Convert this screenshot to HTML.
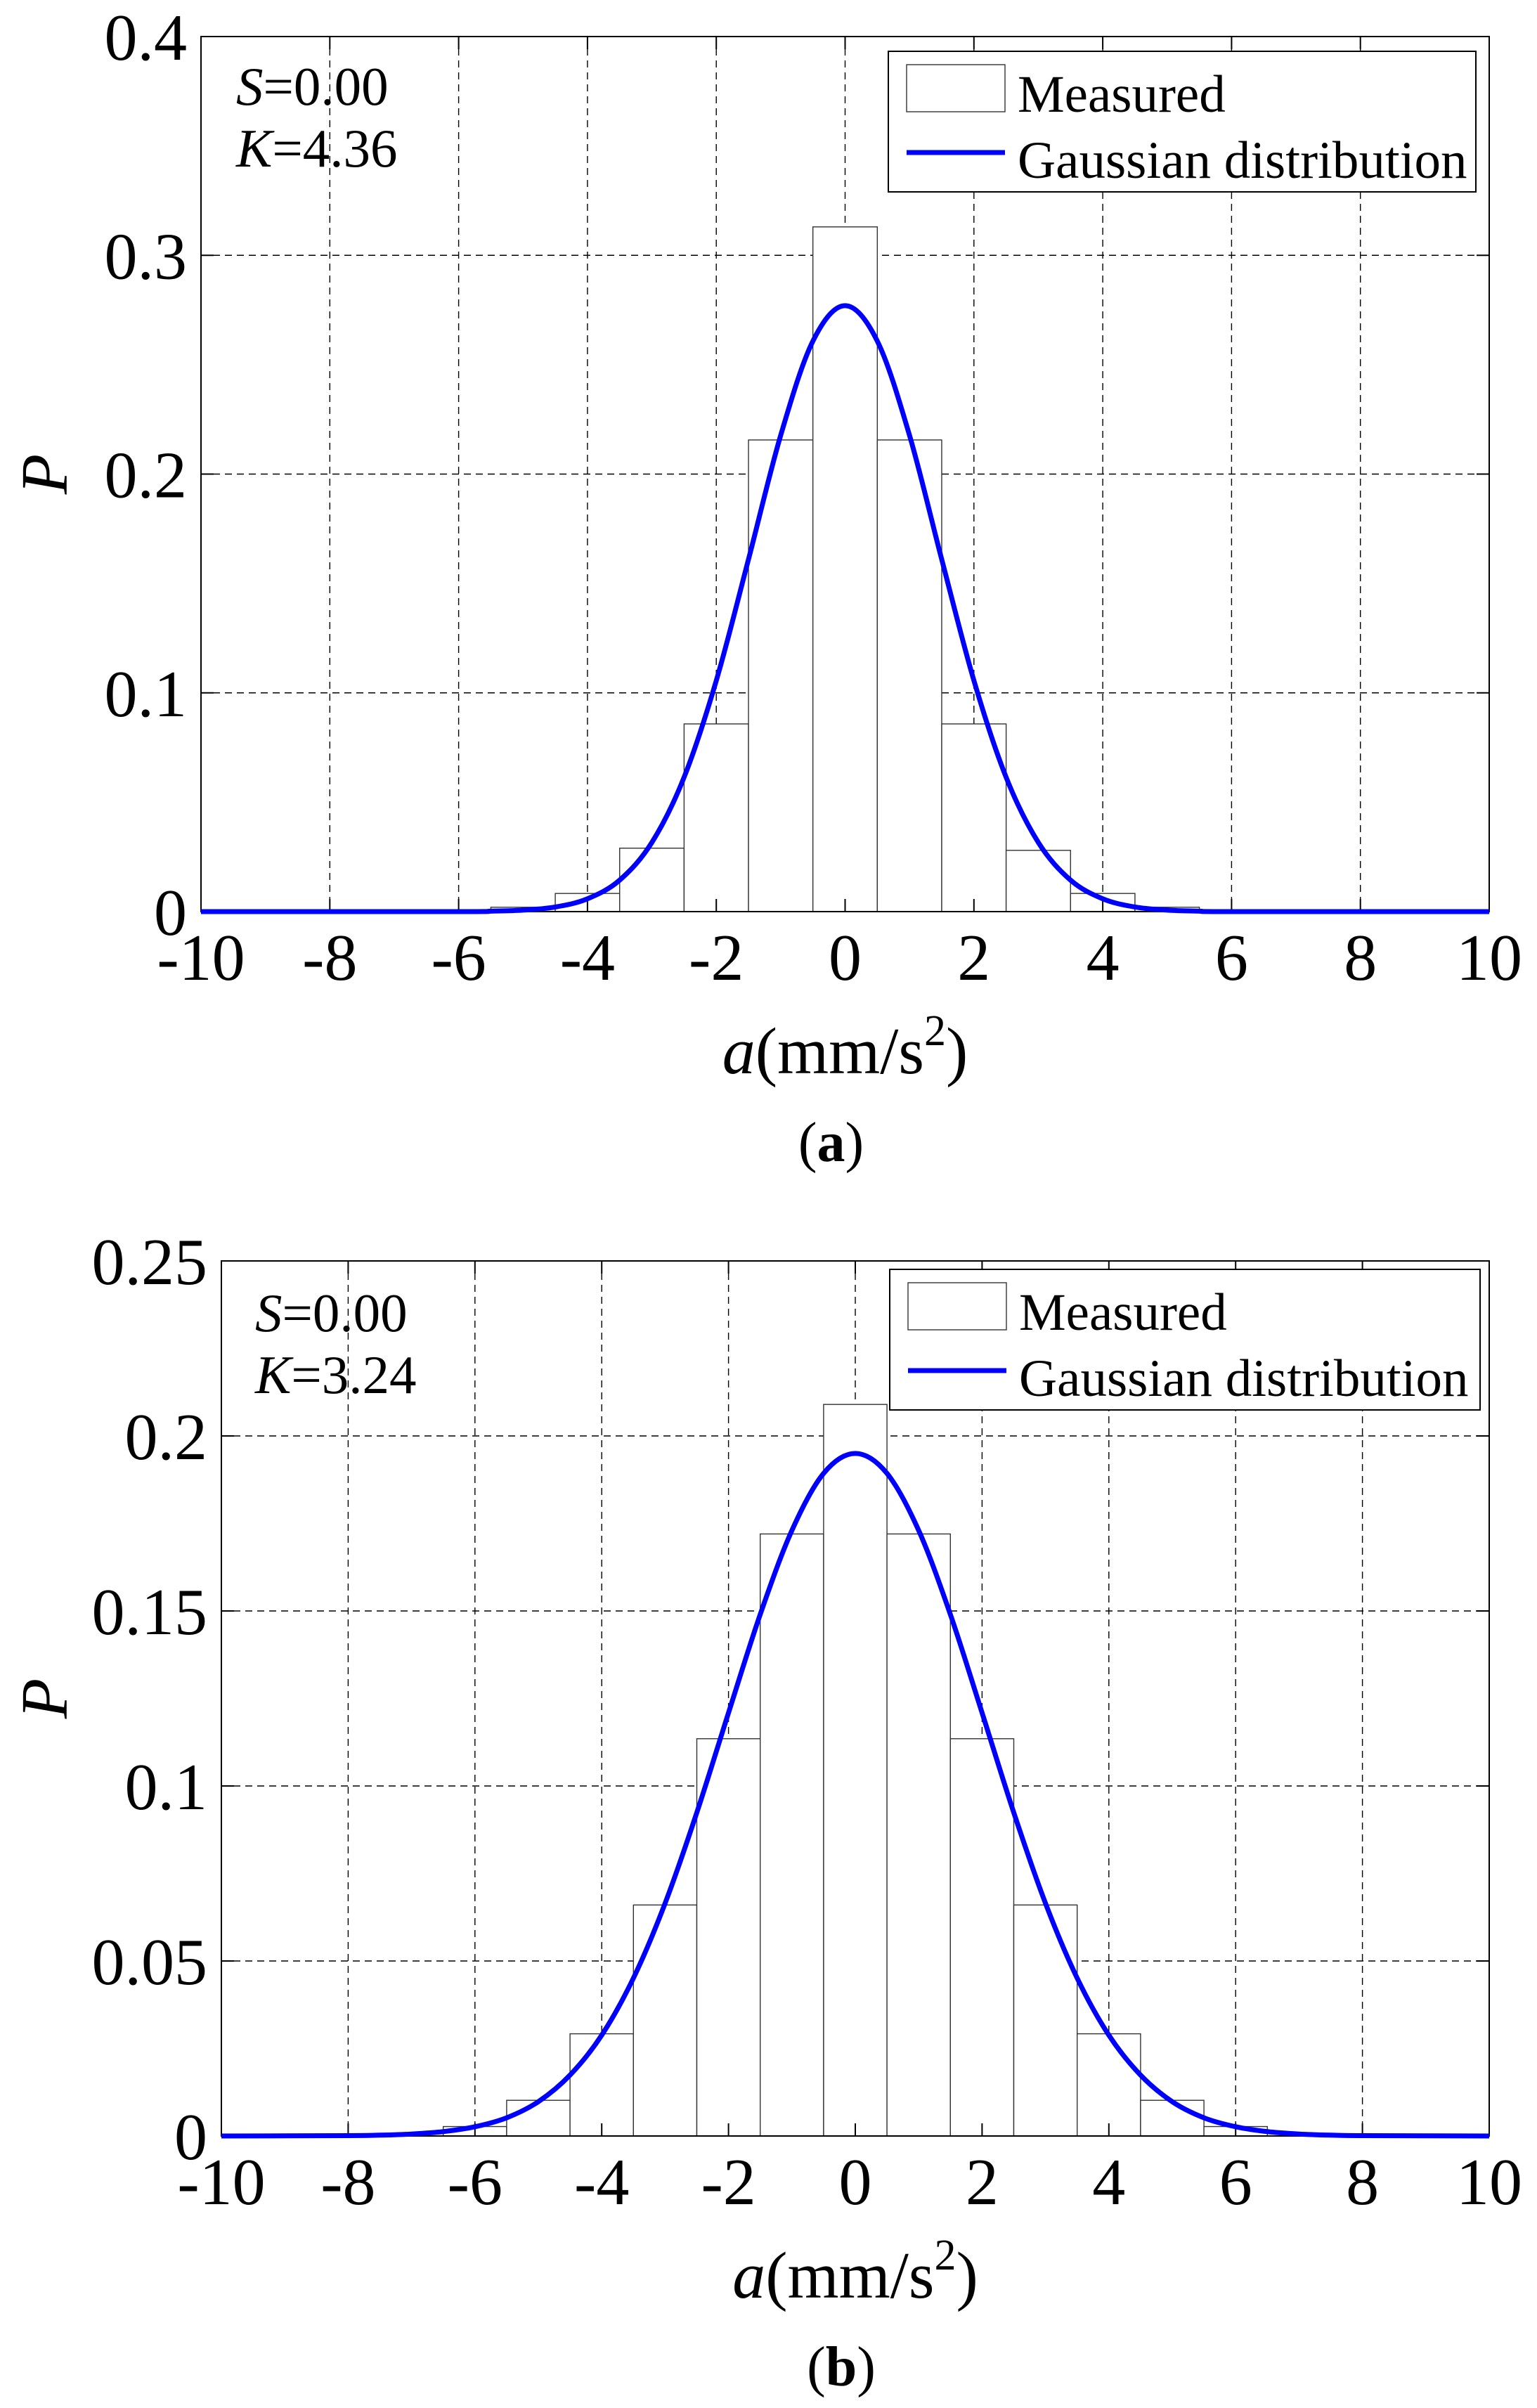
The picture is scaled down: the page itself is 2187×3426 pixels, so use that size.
<!DOCTYPE html>
<html><head><meta charset="utf-8"><style>
html,body{margin:0;padding:0;background:#fff}
svg{display:block}
text{font-family:"Liberation Serif",serif;fill:#000}
</style></head><body>
<svg id="fig" width="2187" height="3426" viewBox="0 0 2187 3426" xmlns="http://www.w3.org/2000/svg"></svg>
<script>
// ---- Chart (a) data ----
const aBinCenters = [-5,-4,-3,-2,-1,0,1,2,3,4,5];
const aBinValues  = [0.002,0.0083,0.029,0.0858,0.2156,0.313,0.2156,0.0858,0.028,0.0083,0.002];
const aCurveX = [-10,-6,-5.5,-5,-4.5,-4,-3.5,-3,-2.5,-2,-1.5,-1,-0.5,0,0.5,1,1.5,2,2.5,3,3.5,4,4.5,5,5.5,6,10];
const aCurveY = [0,0,0.0002,0.00067,0.0021,0.00585,0.0144,0.0316,0.0614,0.1056,0.161,0.2177,0.2608,0.277,0.2608,0.2177,0.161,0.1056,0.0614,0.0316,0.0144,0.00585,0.0021,0.00067,0.0002,0,0];
const aYTicks = [0,0.1,0.2,0.3,0.4];
const aYTickLabels = ["0","0.1","0.2","0.3","0.4"];
const aStats = ["0.00","4.36"];
// ---- Chart (b) data ----
const bBinCenters = [-6,-5,-4,-3,-2,-1,0,1,2,3,4,5,6];
const bBinValues  = [0.0027,0.0102,0.0292,0.066,0.1135,0.172,0.209,0.172,0.1135,0.066,0.0292,0.0102,0.0027];
const bCurveX = [-10,-8,-7.5,-7,-6.5,-6,-5.5,-5,-4.5,-4,-3.5,-3,-2.5,-2,-1.5,-1,-0.5,0,0.5,1,1.5,2,2.5,3,3.5,4,4.5,5,5.5,6,6.5,7,7.5,8,10];
const bCurveY = [0,0.0001,0.00024,0.00056,0.00125,0.00264,0.0052,0.0098,0.0174,0.0288,0.0451,0.0665,0.0924,0.1209,0.149,0.173,0.1893,0.195,0.1893,0.173,0.149,0.1209,0.0924,0.0665,0.0451,0.0288,0.0174,0.0098,0.0052,0.00264,0.00125,0.00056,0.00024,0.0001,0];
const bYTicks = [0,0.05,0.1,0.15,0.2,0.25];
const bYTickLabels = ["0","0.05","0.1","0.15","0.2","0.25"];
const bStats = ["0.00","3.24"];
// shared x axis
const xTicks = [-10,-8,-6,-4,-2,0,2,4,6,8,10];
const xTickLabels = ["-10","-8","-6","-4","-2","0","2","4","6","8","10"];

const NS = "http://www.w3.org/2000/svg";
const svg = document.getElementById('fig');
function mk(tag, attrs, parent, txt){
  const e = document.createElementNS(NS, tag);
  for (const k in attrs) e.setAttribute(k, attrs[k]);
  if (txt !== undefined) e.textContent = txt;
  (parent || svg).appendChild(e);
  return e;
}

function drawChart(cfg){
  const g = mk('g', {});
  
  
  const L = cfg.left, R = cfg.right, T = cfg.top, B = cfg.bottom;
  const ymax = cfg.yTicks[cfg.yTicks.length-1];
  const xs = v => L + (v + 10) / 20 * (R - L);
  const ys = v => B - v / ymax * (B - T);

  const grid = mk('g', {stroke:'#000','stroke-width':1.4,'stroke-dasharray':'10 7',fill:'none'}, g);
  
  
  xTicks.forEach(v => { if (v > -10 && v < 10) mk('line', {x1:xs(v),x2:xs(v),y1:T,y2:B}, grid); });
  cfg.yTicks.forEach(v => { if (v > 0 && v < ymax) mk('line', {x1:L,x2:R,y1:ys(v),y2:ys(v)}, grid); });

  const bars = mk('g', {stroke:'#333','stroke-width':1.4,fill:'#fff'}, g);
  
  
  cfg.bins.forEach((c, i) => {
    const r = mk('rect', {x:xs(c-0.5), y:ys(cfg.vals[i]), width:xs(c+0.5)-xs(c-0.5), height:B-ys(cfg.vals[i])}, bars);
    
    
  });

  const box = mk('rect', {x:L,y:T,width:R-L,height:B-T,fill:'none',stroke:'#000','stroke-width':2}, g);
  
  
  const tk = mk('g', {stroke:'#000','stroke-width':2}, g);
  xTicks.forEach(v => { mk('line',{x1:xs(v),x2:xs(v),y1:B,y2:B-18},tk); mk('line',{x1:xs(v),x2:xs(v),y1:T,y2:T+18},tk); });
  cfg.yTicks.forEach(v => { mk('line',{x1:L,x2:L+18,y1:ys(v),y2:ys(v)},tk); mk('line',{x1:R,x2:R-18,y1:ys(v),y2:ys(v)},tk); });

  const pts = cfg.cx.map((x,i) => [xs(x), ys(cfg.cy[i])]);
  let d = 'M' + pts[0][0] + ',' + pts[0][1];
  for (let i = 0; i < pts.length-1; i++){
    const p0 = pts[Math.max(0,i-1)], p1 = pts[i], p2 = pts[i+1], p3 = pts[Math.min(pts.length-1,i+2)];
    const c1x = p1[0] + (p2[0]-p0[0])/6, c1y = p1[1] + (p2[1]-p0[1])/6;
    const c2x = p2[0] - (p3[0]-p1[0])/6, c2y = p2[1] - (p3[1]-p1[1])/6;
    d += ' C' + c1x + ',' + Math.min(B, c1y) + ' ' + c2x + ',' + Math.min(B, c2y) + ' ' + p2[0] + ',' + p2[1];
  }
  const curve = mk('path', {d:d, fill:'none', stroke:'#0000ff','stroke-width':7,'stroke-linejoin':'round'}, g);
  
  

  xTicks.forEach((v,i) => {
    const t = mk('text', {x:xs(v), y:B+97, 'font-size':94, 'text-anchor':'middle'}, g, xTickLabels[i]);
    
    
  });
  cfg.yTicks.forEach((v,i) => {
    const t = mk('text', {x:L-20, y:ys(v)+33, 'font-size':94, 'text-anchor':'end'}, g, cfg.yLabels[i]);
    
    
  });

  const xt = mk('text', {x:(L+R)/2, y:B+230, 'font-size':94, 'text-anchor':'middle'}, g);
  
  
  mk('tspan', {'font-style':'italic'}, xt, 'a');
  mk('tspan', {}, xt, '(mm/s');
  mk('tspan', {'font-size':62, dy:-40}, xt, '2');
  mk('tspan', {dy:40}, xt, ')');
  const yt = mk('text', {x:0, y:0, 'font-size':94, 'font-style':'italic', 'text-anchor':'middle', transform:'translate(95,'+((T+B)/2)+') rotate(-90)'}, g, 'P');
  
  

  const cap = mk('text', {x:(L+R)/2 - 20, y:B+355, 'font-size':80, 'text-anchor':'middle'}, g);
  
  
  mk('tspan', {}, cap, '(');
  mk('tspan', {'font-weight':'bold'}, cap, cfg.caption);
  mk('tspan', {}, cap, ')');

  const s = mk('text', {x:cfg.statX, y:cfg.statY, 'font-size':77}, g);
  
  
  mk('tspan', {'font-style':'italic'}, s, 'S');
  mk('tspan', {}, s, '=' + cfg.stats[0]);
  const k = mk('text', {x:cfg.statX, y:cfg.statY+88, 'font-size':77}, g);
  
  
  mk('tspan', {'font-style':'italic'}, k, 'K');
  mk('tspan', {}, k, '=' + cfg.stats[1]);

  const lg = mk('g', {}, g);
  
  
  const lt = cfg.legTop;
  mk('rect', {x:cfg.legL, y:lt, width:cfg.legR-cfg.legL, height:200, fill:'#fff', stroke:'#000', 'stroke-width':2}, lg);
  const e1 = mk('rect', {x:cfg.legL+26, y:lt+19, width:140, height:67, fill:'#fff', stroke:'#333','stroke-width':1.4}, lg);
  
  
  const t1 = mk('text', {x:cfg.legL+184, y:lt+86, 'font-size':75}, lg, 'Measured');
  
  
  const e2 = mk('line', {x1:cfg.legL+26, x2:cfg.legL+166, y1:lt+144, y2:lt+144, stroke:'#0000ff','stroke-width':7}, lg);
  
  
  const t2 = mk('text', {x:cfg.legL+184, y:lt+180, 'font-size':75}, lg, 'Gaussian distribution');
  
  
}

drawChart({name:'chart-a', left:286, right:2119, top:52, bottom:1297,
  bins:aBinCenters, vals:aBinValues, cx:aCurveX, cy:aCurveY, yTicks:aYTicks, yLabels:aYTickLabels,
  stats:aStats, statX:336, statY:149, caption:'a', legL:1264, legR:2100, legTop:73});
drawChart({name:'chart-b', left:315, right:2119, top:1794, bottom:3039,
  bins:bBinCenters, vals:bBinValues, cx:bCurveX, cy:bCurveY, yTicks:bYTicks, yLabels:bYTickLabels,
  stats:bStats, statX:363, statY:1894, caption:'b', legL:1266, legR:2106, legTop:1806});
</script>
</body></html>
